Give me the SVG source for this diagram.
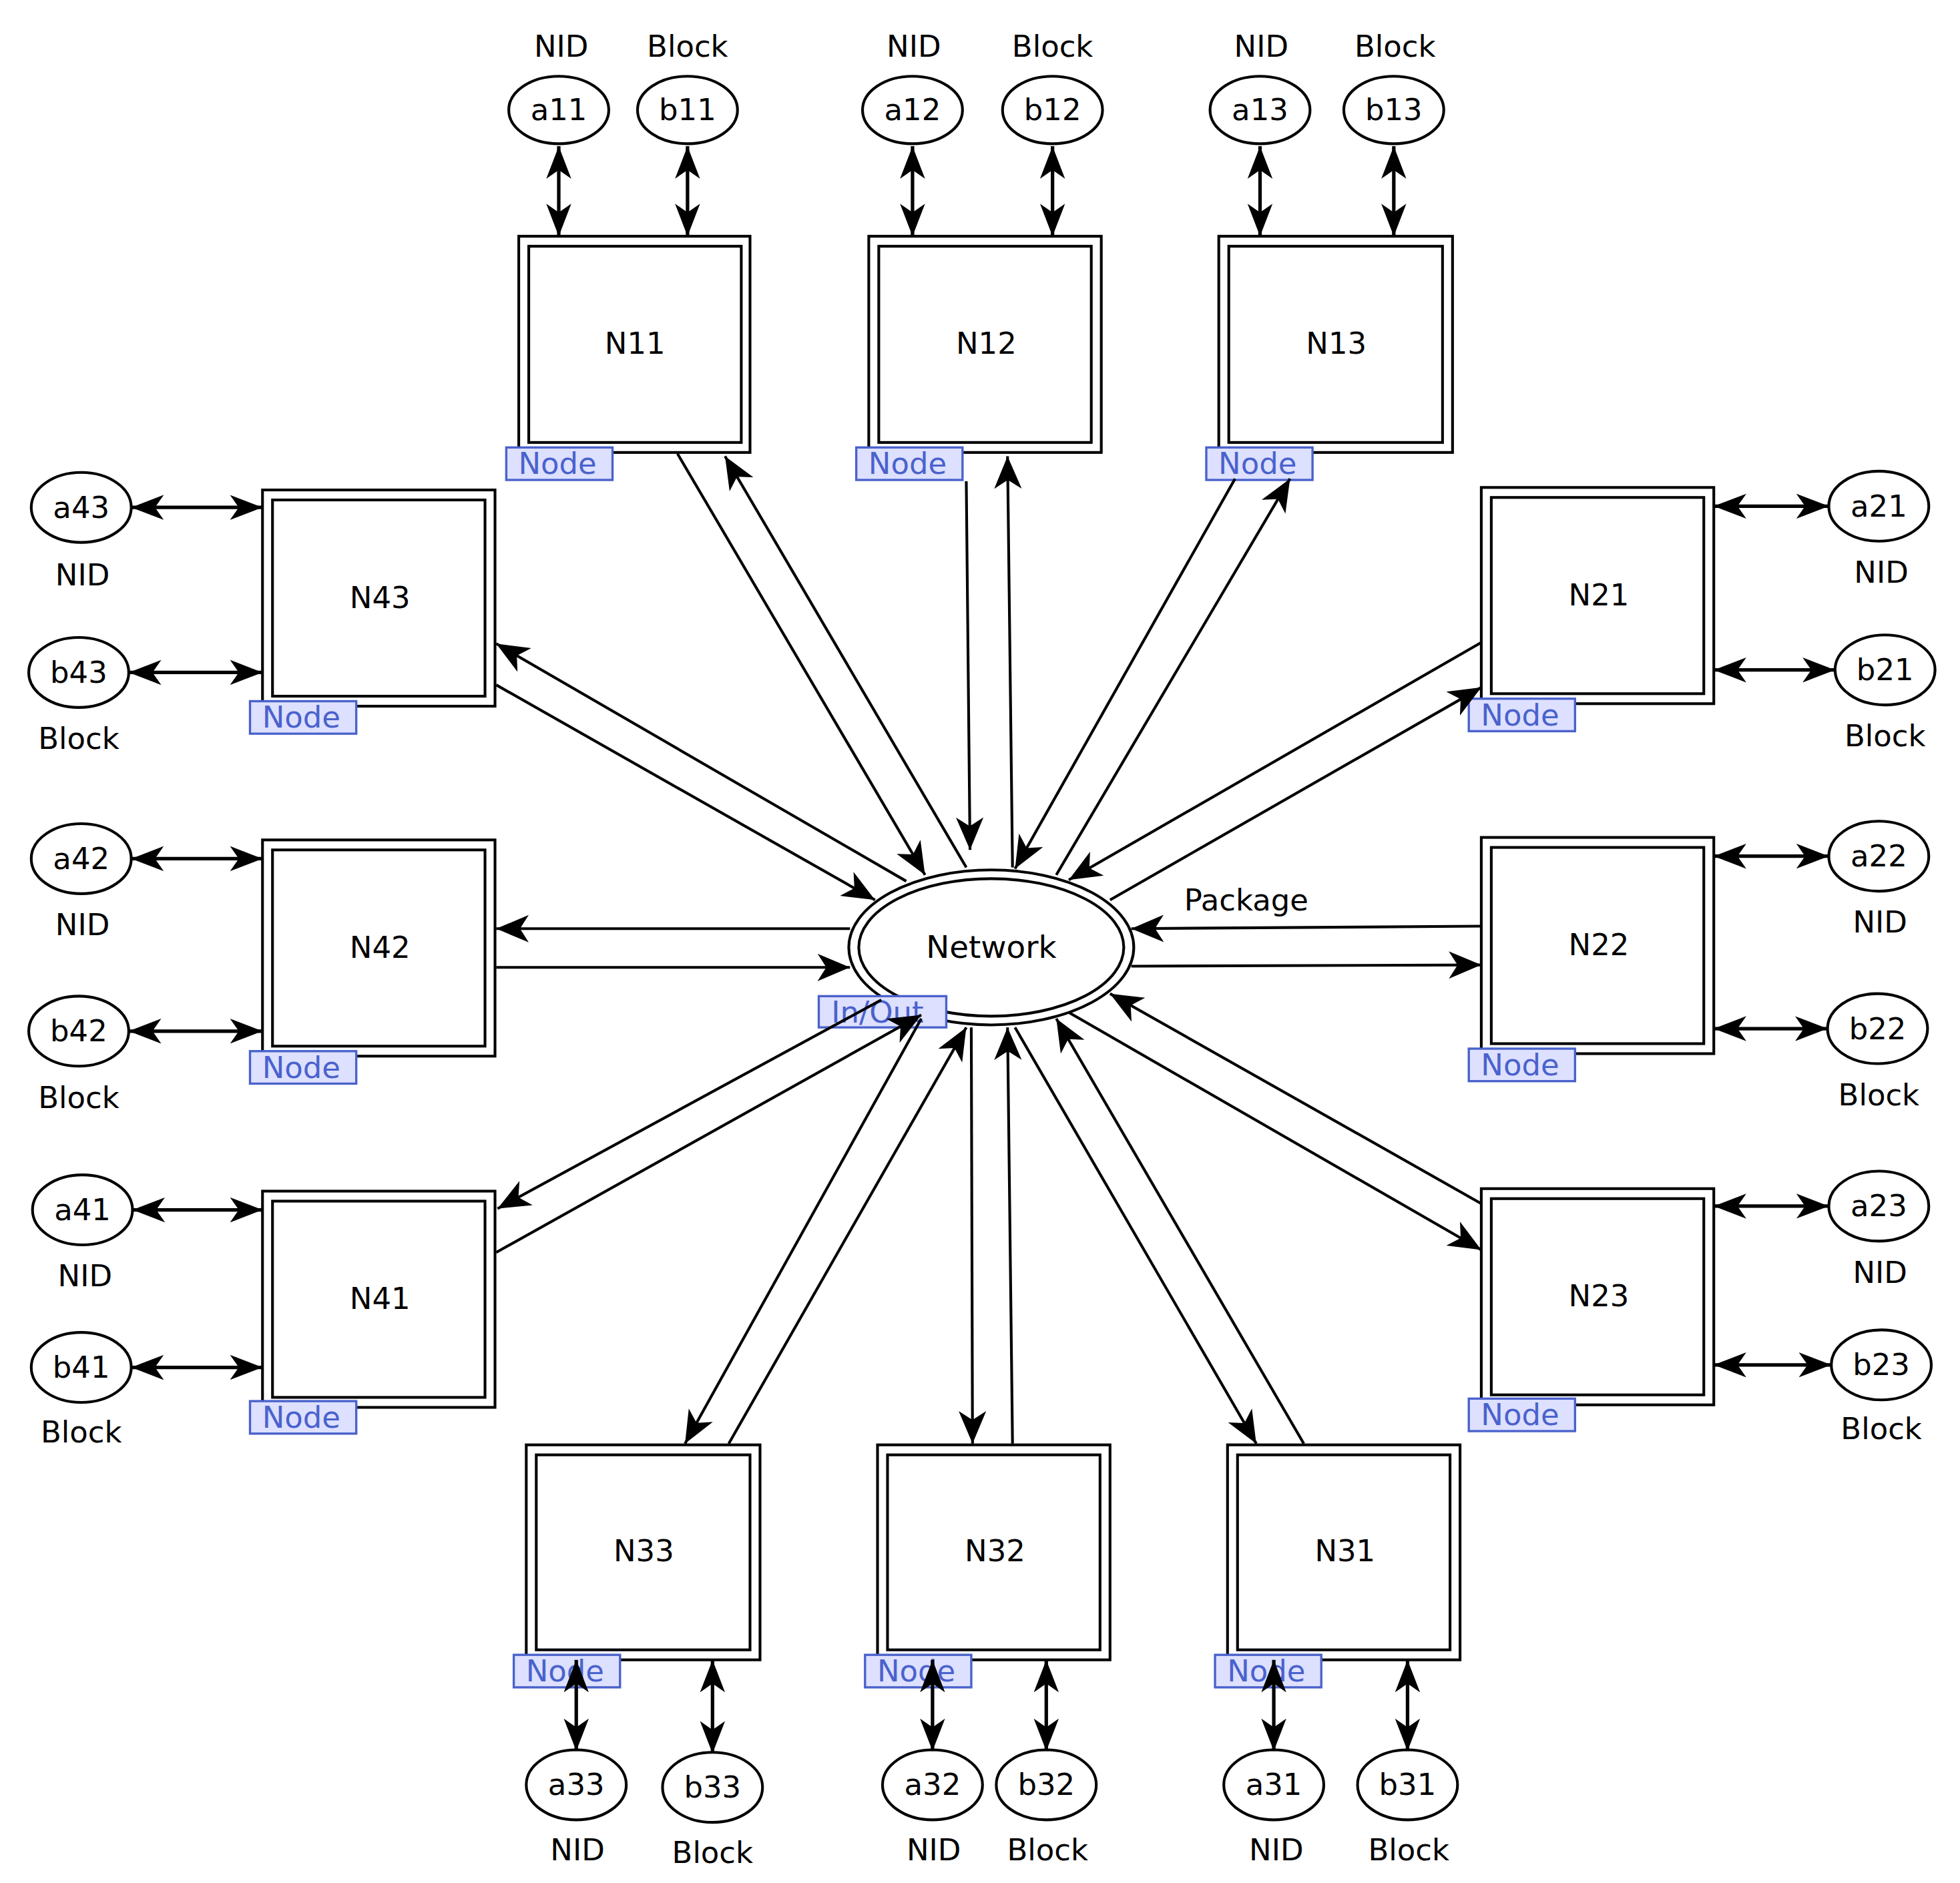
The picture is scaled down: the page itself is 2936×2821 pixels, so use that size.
<svg xmlns="http://www.w3.org/2000/svg" width="2936" height="2821" viewBox="0 0 2936 2821">
<style>
.o{fill:#fff;stroke:#000;stroke-width:2.2}
.i{fill:none;stroke:#000;stroke-width:2.2}
.e{fill:#fff;stroke:#000;stroke-width:2.2}
.c{stroke:#000;stroke-width:2.2;fill:none;marker-end:url(#ah)}
.d{stroke:#000;stroke-width:2.8;fill:none;marker-end:url(#ah2);marker-start:url(#ah2)}
.t{font-family:"DejaVu Sans",sans-serif;font-size:24px;text-anchor:middle;dominant-baseline:central;fill:#000}
.lb{fill:#dde0ff;stroke:#4a62cc;stroke-width:1.8}
.lt{font-family:"DejaVu Sans",sans-serif;font-size:24px;fill:#4a62cc;text-anchor:middle;dominant-baseline:central}
</style>
<defs>
<marker id="ah" viewBox="-26 -12 28 24" refX="0" refY="0" markerWidth="28" markerHeight="24" markerUnits="userSpaceOnUse" orient="auto-start-reverse">
<path d="M0,0 L-26,-11 L-19,0 L-26,11 Z" fill="#000"/>
</marker>
<marker id="ah2" viewBox="-26 -12 28 24" refX="0" refY="0" markerWidth="28" markerHeight="24" markerUnits="userSpaceOnUse" orient="auto-start-reverse">
<path d="M0,0 L-26,-10 L-19,0 L-26,10 Z" fill="#000"/>
</marker>
</defs>
<rect width="2936" height="2821" fill="#fff"/>
<g transform="scale(1.8725)">
<g id="network">
<ellipse class="e" cx="793" cy="758" rx="114" ry="62"/>
<ellipse class="i" cx="793" cy="758" rx="106" ry="55"/>
<text class="t" x="793" y="758" style="font-size:25px">Network</text>
<rect class="lb" x="655" y="797" width="102" height="25"/>
<text class="lt" x="702" y="810">In/Out</text>
</g>
<g id="N11"><rect class="o" x="415" y="189" width="185" height="173"/><rect class="i" x="423" y="197" width="170" height="157"/><text class="t" x="508" y="275">N11</text><rect class="lb" x="405" y="358" width="85" height="26"/><text class="lt" x="446" y="371">Node</text></g>
<g id="N12"><rect class="o" x="695" y="189" width="186" height="173"/><rect class="i" x="703" y="197" width="170" height="157"/><text class="t" x="789" y="275">N12</text><rect class="lb" x="685" y="358" width="85" height="26"/><text class="lt" x="726" y="371">Node</text></g>
<g id="N13"><rect class="o" x="975" y="189" width="187" height="173"/><rect class="i" x="983" y="197" width="171" height="157"/><text class="t" x="1069" y="275">N13</text><rect class="lb" x="965" y="358" width="85" height="26"/><text class="lt" x="1006" y="371">Node</text></g>
<g id="N43"><rect class="o" x="210" y="392" width="186" height="173"/><rect class="i" x="218" y="400" width="170" height="157"/><text class="t" x="304" y="478">N43</text><rect class="lb" x="200" y="561" width="85" height="26"/><text class="lt" x="241" y="574">Node</text></g>
<g id="N42"><rect class="o" x="210" y="672" width="186" height="173"/><rect class="i" x="218" y="680" width="170" height="157"/><text class="t" x="304" y="758">N42</text><rect class="lb" x="200" y="841" width="85" height="26"/><text class="lt" x="241" y="854">Node</text></g>
<g id="N41"><rect class="o" x="210" y="953" width="186" height="173"/><rect class="i" x="218" y="961" width="170" height="157"/><text class="t" x="304" y="1039">N41</text><rect class="lb" x="200" y="1121" width="85" height="26"/><text class="lt" x="241" y="1134">Node</text></g>
<g id="N21"><rect class="o" x="1185" y="390" width="186" height="173"/><rect class="i" x="1193" y="398" width="170" height="157"/><text class="t" x="1279" y="476">N21</text><rect class="lb" x="1175" y="559" width="85" height="26"/><text class="lt" x="1216" y="572">Node</text></g>
<g id="N22"><rect class="o" x="1185" y="670" width="186" height="173"/><rect class="i" x="1193" y="678" width="170" height="157"/><text class="t" x="1279" y="756">N22</text><rect class="lb" x="1175" y="839" width="85" height="26"/><text class="lt" x="1216" y="852">Node</text></g>
<g id="N23"><rect class="o" x="1185" y="951" width="186" height="173"/><rect class="i" x="1193" y="959" width="170" height="157"/><text class="t" x="1279" y="1037">N23</text><rect class="lb" x="1175" y="1119" width="85" height="26"/><text class="lt" x="1216" y="1132">Node</text></g>
<g id="N33"><rect class="o" x="421" y="1156" width="187" height="172"/><rect class="i" x="429" y="1164" width="171" height="156"/><text class="t" x="515" y="1241">N33</text><rect class="lb" x="411" y="1324" width="85" height="26"/><text class="lt" x="452" y="1337">Node</text></g>
<g id="N32"><rect class="o" x="702" y="1156" width="186" height="172"/><rect class="i" x="710" y="1164" width="170" height="156"/><text class="t" x="796" y="1241">N32</text><rect class="lb" x="692" y="1324" width="85" height="26"/><text class="lt" x="733" y="1337">Node</text></g>
<g id="N31"><rect class="o" x="982" y="1156" width="186" height="172"/><rect class="i" x="990" y="1164" width="170" height="156"/><text class="t" x="1076" y="1241">N31</text><rect class="lb" x="972" y="1324" width="85" height="26"/><text class="lt" x="1013" y="1337">Node</text></g>
<g id="a11"><ellipse class="e" cx="447" cy="88" rx="40" ry="27"/><text class="t" x="447" y="88">a11</text><text class="t" x="449" y="37">NID</text></g>
<g id="b11"><ellipse class="e" cx="550" cy="88" rx="40" ry="27"/><text class="t" x="550" y="88">b11</text><text class="t" x="550" y="37">Block</text></g>
<g id="a12"><ellipse class="e" cx="730" cy="88" rx="40" ry="27"/><text class="t" x="730" y="88">a12</text><text class="t" x="731" y="37">NID</text></g>
<g id="b12"><ellipse class="e" cx="842" cy="88" rx="40" ry="27"/><text class="t" x="842" y="88">b12</text><text class="t" x="842" y="37">Block</text></g>
<g id="a13"><ellipse class="e" cx="1008" cy="88" rx="40" ry="27"/><text class="t" x="1008" y="88">a13</text><text class="t" x="1009" y="37">NID</text></g>
<g id="b13"><ellipse class="e" cx="1115" cy="88" rx="40" ry="27"/><text class="t" x="1115" y="88">b13</text><text class="t" x="1116" y="37">Block</text></g>
<g id="a43"><ellipse class="e" cx="65" cy="406" rx="40" ry="28"/><text class="t" x="65" y="406">a43</text><text class="t" x="66" y="460">NID</text></g>
<g id="b43"><ellipse class="e" cx="63" cy="538" rx="40" ry="28"/><text class="t" x="63" y="538">b43</text><text class="t" x="63" y="591">Block</text></g>
<g id="a42"><ellipse class="e" cx="65" cy="687" rx="40" ry="28"/><text class="t" x="65" y="687">a42</text><text class="t" x="66" y="740">NID</text></g>
<g id="b42"><ellipse class="e" cx="63" cy="825" rx="40" ry="28"/><text class="t" x="63" y="825">b42</text><text class="t" x="63" y="878">Block</text></g>
<g id="a41"><ellipse class="e" cx="66" cy="968" rx="40" ry="28"/><text class="t" x="66" y="968">a41</text><text class="t" x="68" y="1021">NID</text></g>
<g id="b41"><ellipse class="e" cx="65" cy="1094" rx="40" ry="28"/><text class="t" x="65" y="1094">b41</text><text class="t" x="65" y="1146">Block</text></g>
<g id="a21"><ellipse class="e" cx="1503" cy="405" rx="40" ry="28"/><text class="t" x="1503" y="405">a21</text><text class="t" x="1505" y="458">NID</text></g>
<g id="b21"><ellipse class="e" cx="1508" cy="536" rx="40" ry="28"/><text class="t" x="1508" y="536">b21</text><text class="t" x="1508" y="589">Block</text></g>
<g id="a22"><ellipse class="e" cx="1503" cy="685" rx="40" ry="28"/><text class="t" x="1503" y="685">a22</text><text class="t" x="1504" y="738">NID</text></g>
<g id="b22"><ellipse class="e" cx="1502" cy="823" rx="40" ry="28"/><text class="t" x="1502" y="823">b22</text><text class="t" x="1503" y="876">Block</text></g>
<g id="a23"><ellipse class="e" cx="1503" cy="965" rx="40" ry="28"/><text class="t" x="1503" y="965">a23</text><text class="t" x="1504" y="1018">NID</text></g>
<g id="b23"><ellipse class="e" cx="1505" cy="1092" rx="40" ry="28"/><text class="t" x="1505" y="1092">b23</text><text class="t" x="1505" y="1143">Block</text></g>
<g id="a33"><ellipse class="e" cx="461" cy="1428" rx="40" ry="28"/><text class="t" x="461" y="1428">a33</text><text class="t" x="462" y="1480">NID</text></g>
<g id="b33"><ellipse class="e" cx="570" cy="1430" rx="40" ry="28"/><text class="t" x="570" y="1430">b33</text><text class="t" x="570" y="1482">Block</text></g>
<g id="a32"><ellipse class="e" cx="746" cy="1428" rx="40" ry="28"/><text class="t" x="746" y="1428">a32</text><text class="t" x="747" y="1480">NID</text></g>
<g id="b32"><ellipse class="e" cx="837" cy="1428" rx="40" ry="28"/><text class="t" x="837" y="1428">b32</text><text class="t" x="838" y="1480">Block</text></g>
<g id="a31"><ellipse class="e" cx="1019" cy="1428" rx="40" ry="28"/><text class="t" x="1019" y="1428">a31</text><text class="t" x="1021" y="1480">NID</text></g>
<g id="b31"><ellipse class="e" cx="1126" cy="1428" rx="40" ry="28"/><text class="t" x="1126" y="1428">b31</text><text class="t" x="1127" y="1480">Block</text></g>
<g id="connectors">
<line class="c" x1="542" y1="363" x2="740" y2="700"/>
<line class="c" x1="773" y1="694" x2="580" y2="365"/>
<line class="c" x1="773" y1="385" x2="776" y2="680"/>
<line class="c" x1="810" y1="694" x2="806" y2="365"/>
<line class="c" x1="988" y1="383" x2="812" y2="695"/>
<line class="c" x1="845" y1="700" x2="1032" y2="383"/>
<line class="c" x1="1185" y1="514" x2="855" y2="704"/>
<line class="c" x1="888" y1="720" x2="1185" y2="550"/>
<line class="c" x1="1185" y1="741" x2="905" y2="743"/>
<line class="c" x1="905" y1="773" x2="1185" y2="772"/>
<line class="c" x1="1185" y1="963" x2="888" y2="795"/>
<line class="c" x1="855" y1="810" x2="1185" y2="1000"/>
<line class="c" x1="1043" y1="1155" x2="845" y2="815"/>
<line class="c" x1="812" y1="822" x2="1005" y2="1155"/>
<line class="c" x1="810" y1="1155" x2="806" y2="822"/>
<line class="c" x1="777" y1="822" x2="778" y2="1155"/>
<line class="c" x1="583" y1="1155" x2="773" y2="822"/>
<line class="c" x1="737" y1="815" x2="548" y2="1155"/>
<line class="c" x1="397" y1="1002" x2="737" y2="812"/>
<line class="c" x1="705" y1="800" x2="398" y2="967"/>
<line class="c" x1="680" y1="743" x2="397" y2="743"/>
<line class="c" x1="397" y1="774" x2="680" y2="774"/>
<line class="c" x1="397" y1="548" x2="700" y2="720"/>
<line class="c" x1="725" y1="705" x2="397" y2="515"/>
<text class="t" x="997" y="720">Package</text>
<line class="d" x1="447" y1="117" x2="447" y2="189"/>
<line class="d" x1="550" y1="117" x2="550" y2="189"/>
<line class="d" x1="730" y1="117" x2="730" y2="189"/>
<line class="d" x1="842" y1="117" x2="842" y2="189"/>
<line class="d" x1="1008" y1="117" x2="1008" y2="189"/>
<line class="d" x1="1115" y1="117" x2="1115" y2="189"/>
<line class="d" x1="105" y1="406" x2="210" y2="406"/>
<line class="d" x1="103" y1="538" x2="210" y2="538"/>
<line class="d" x1="105" y1="687" x2="210" y2="687"/>
<line class="d" x1="103" y1="825" x2="210" y2="825"/>
<line class="d" x1="106" y1="968" x2="210" y2="968"/>
<line class="d" x1="105" y1="1094" x2="210" y2="1094"/>
<line class="d" x1="1371" y1="405" x2="1463" y2="405"/>
<line class="d" x1="1371" y1="536" x2="1468" y2="536"/>
<line class="d" x1="1371" y1="685" x2="1463" y2="685"/>
<line class="d" x1="1371" y1="823" x2="1462" y2="823"/>
<line class="d" x1="1371" y1="965" x2="1463" y2="965"/>
<line class="d" x1="1371" y1="1092" x2="1465" y2="1092"/>
<line class="d" x1="461" y1="1328" x2="461" y2="1401"/>
<line class="d" x1="570" y1="1328" x2="570" y2="1403"/>
<line class="d" x1="746" y1="1328" x2="746" y2="1401"/>
<line class="d" x1="837" y1="1328" x2="837" y2="1401"/>
<line class="d" x1="1019" y1="1328" x2="1019" y2="1401"/>
<line class="d" x1="1126" y1="1328" x2="1126" y2="1401"/>
</g>
</g>
</svg>
